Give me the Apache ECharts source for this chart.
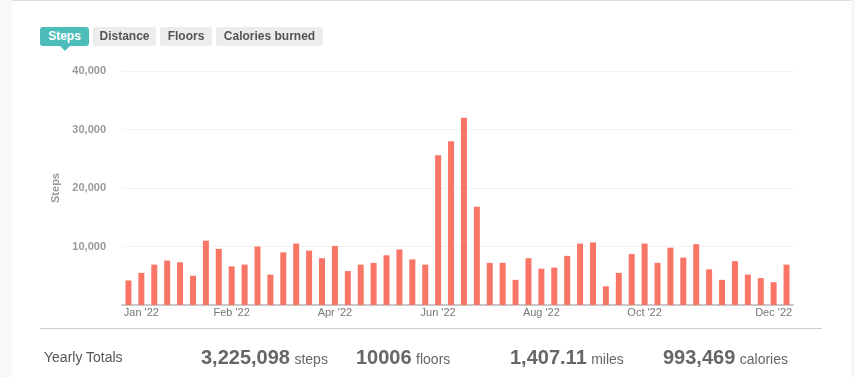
<!DOCTYPE html>
<html>
<head>
<meta charset="utf-8">
<script src="https://cdn.jsdelivr.net/npm/echarts@6/dist/echarts.min.js"></script>
<style>
  html, body { margin: 0; padding: 0; background: #f8f8f8; }
  body { width: 855px; height: 377px; position: relative; overflow: hidden; font-family: "Liberation Sans", Arial, sans-serif; }
  .panel { position: absolute; left: 12px; top: 0; width: 839px; height: 377px; background: #fff; border-top: 1px solid #ddd; }
  #chart { position: absolute; left: 0; top: 0; width: 855px; height: 377px; }
  .tabs { position: absolute; left: 40px; top: 27px; height: 19px; }
  .tab { position: absolute; top: 0; height: 19px; line-height: 19px; text-align: center; font-size: 12px; font-weight: bold; color: #555; background: #ececec; border-radius: 3px; }
  .tab.on { background: #4dbdb9; color: #fff; }
  .tab.on:after { content: ""; position: absolute; left: 50%; margin-left: -5px; top: 19px; border: 5px solid transparent; border-top-color: #4dbdb9; border-bottom: 0; }
  .sep { position: absolute; left: 40px; top: 328px; width: 782px; height: 1px; background: #ccc; }
  .totals { position: absolute; top: 344px; height: 26px; line-height: 26px; color: #555; }
  .totals b { font-size: 20px; color: #666; }
  .totals span { font-size: 14px; color: #666; }
</style>
</head>
<body>
<div class="panel"></div>
<div id="chart"></div>
<div class="tabs">
  <div class="tab on" style="left:0;width:49px">Steps</div>
  <div class="tab" style="left:53px;width:63px">Distance</div>
  <div class="tab" style="left:120px;width:52px">Floors</div>
  <div class="tab" style="left:176px;width:107px">Calories burned</div>
</div>
<div class="sep"></div>
<div class="totals" style="left:44px;font-size:14px">Yearly Totals</div>
<div class="totals" style="left:201px"><b>3,225,098</b> <span>steps</span></div>
<div class="totals" style="left:356px"><b>10006</b> <span>floors</span></div>
<div class="totals" style="left:510px"><b>1,407.11</b> <span>miles</span></div>
<div class="totals" style="left:663px"><b>993,469</b> <span>calories</span></div>
<script>
// weekly step counts, 2022
const weeklySteps = [
  4200, 5500, 6900, 7600, 7300, 5000, 11000, 9600, 6600, 6900,
  10000, 5200, 9000, 10500, 9300, 8000, 10100, 5800, 6900, 7200,
  8500, 9500, 7800, 6900, 25600, 28000, 32000, 16800, 7200, 7200,
  4300, 8000, 6200, 6400, 8400, 10500, 10700, 3200, 5500, 8700,
  10500, 7200, 9800, 8100, 10400, 6100, 4300, 7500, 5200, 4600,
  3900, 6900
];

// month labels shown under particular weeks
const monthLabels = { 1: "Jan '22", 8: "Feb '22", 16: "Apr '22", 24: "Jun '22", 32: "Aug '22", 40: "Oct '22", 50: "Dec '22" };
const weeks = weeklySteps.map((v, i) => monthLabels[i] || '');

const yTicks = { min: 0, max: 40000, interval: 10000 };

const chart = echarts.init(document.getElementById('chart'));
chart.setOption({
  animation: false,
  grid: { left: 122, right: 62, top: 71, bottom: 72 },
  xAxis: {
    type: 'category',
    data: weeks,
    axisTick: { show: false },
    axisLine: { lineStyle: { color: '#c8c8c8', width: 2 } },
    axisLabel: { interval: 0, color: '#777', fontSize: 11, margin: 2, fontFamily: 'Liberation Sans' }
  },
  yAxis: {
    type: 'value',
    min: yTicks.min,
    max: yTicks.max,
    interval: yTicks.interval,
    name: 'Steps',
    nameLocation: 'middle',
    nameRotate: 90,
    nameGap: 56,
    nameTextStyle: { color: '#999', fontSize: 11, fontWeight: 'bold', fontFamily: 'Liberation Sans' },
    axisLabel: {
      color: '#999', fontSize: 11, fontWeight: 'bold', margin: 16, fontFamily: 'Liberation Sans',
      formatter: v => v === 0 ? '' : v.toLocaleString('en-US')
    },
    splitLine: { lineStyle: { color: '#f2f2f2' } }
  },
  series: [{
    type: 'bar',
    data: weeklySteps,
    barWidth: 6,
    itemStyle: { color: '#f97565' }
  }]
});
</script>
</body>
</html>
